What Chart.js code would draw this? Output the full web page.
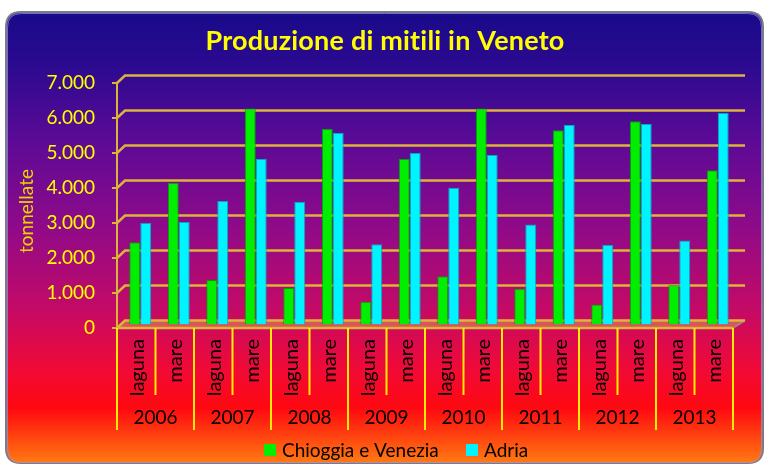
<!DOCTYPE html>
<html>
<head>
<meta charset="utf-8">
<script src="https://cdn.jsdelivr.net/npm/chart.js@4"></script>
<style>
  html, body { margin: 0; padding: 0; background: #fff; }
  canvas { display: block; }
</style>
</head>
<body>
<canvas id="chart" width="766" height="465"></canvas>
<script>
/* ---- Dati ---- */
const TITLE = "Produzione di mitili in Veneto";
const Y_TITLE = "tonnellate";
const YEARS = ["2006", "2007", "2008", "2009", "2010", "2011", "2012", "2013"];
const SITES = ["laguna", "mare"];
const CHIOGGIA = [2350, 4050, 1270, 6170, 1040, 5590, 650, 4730, 1380, 6170, 1020, 5550, 570, 5810, 1120, 4410];
const ADRIA    = [2900, 2930, 3530, 4730, 3510, 5480, 2290, 4900, 3910, 4840, 2860, 5700, 2270, 5730, 2400, 6050];
const Y_TICKS  = [0, 1000, 2000, 3000, 4000, 5000, 6000, 7000];
const Y_LABELS = ["0", "1.000", "2.000", "3.000", "4.000", "5.000", "6.000", "7.000"];
const SERIES_NAMES = ["Chioggia e Venezia", "Adria"];

// categorie: anno x sito
const CATEGORIES = [];
YEARS.forEach(y => SITES.forEach(s => CATEGORIES.push(y + " " + s)));

/* ---- Stile ---- */
const FONT = "Lato, 'Open Sans', sans-serif";
const GRID = "#dcb43c";
const FX = -4, FY = 3.5;   // parete frontale (assi) rispetto alle barre
const BX = 4,  BY = -4;    // parete di fondo (griglia)

function roundRect(ctx, x, y, w, h, r) {
  ctx.beginPath();
  ctx.moveTo(x + r, y);
  ctx.lineTo(x + w - r, y);
  ctx.quadraticCurveTo(x + w, y, x + w, y + r);
  ctx.lineTo(x + w, y + h - r);
  ctx.quadraticCurveTo(x + w, y + h, x + w - r, y + h);
  ctx.lineTo(x + r, y + h);
  ctx.quadraticCurveTo(x, y + h, x, y + h - r);
  ctx.lineTo(x, y + r);
  ctx.quadraticCurveTo(x, y, x + r, y);
  ctx.closePath();
}

const deco = {
  id: "deco",
  beforeDraw(chart) {
    const ctx = chart.ctx;
    ctx.save();
    ctx.fillStyle = "#fff";
    ctx.fillRect(0, 0, chart.width, chart.height);
    // cornice
    roundRect(ctx, 5, 11, 759, 453, 16);
    ctx.fillStyle = "#7a7a88";
    ctx.fill();
    const g = ctx.createLinearGradient(0, 13, 0, 462);
    g.addColorStop(0.00, "#180a8a");
    g.addColorStop(0.12, "#2c0a90");
    g.addColorStop(0.30, "#600a96");
    g.addColorStop(0.48, "#900a88");
    g.addColorStop(0.66, "#c40a66");
    g.addColorStop(0.80, "#f20a34");
    g.addColorStop(0.88, "#ff0810");
    g.addColorStop(0.95, "#ff4a10");
    g.addColorStop(1.00, "#ff7812");
    roundRect(ctx, 7, 13, 755, 450, 14);
    ctx.fillStyle = g;
    ctx.fill();
    ctx.strokeStyle = "rgba(150,150,220,0.7)";
    ctx.lineWidth = 1;
    roundRect(ctx, 7.5, 13.5, 754, 449, 14);
    ctx.stroke();
    ctx.restore();
  },
  beforeDatasetsDraw(chart) {
    const ctx = chart.ctx;
    const xs = chart.scales.x, ys = chart.scales.y;
    const L = xs.left, R = xs.right;
    ctx.save();
    // pavimento
    const y0 = ys.getPixelForValue(0);
    ctx.fillStyle = "rgba(225,150,90,0.55)";
    ctx.beginPath();
    ctx.moveTo(L + FX, y0 + FY);
    ctx.lineTo(R + FX, y0 + FY);
    ctx.lineTo(R + BX + 4, y0 + BY);
    ctx.lineTo(L + BX, y0 + BY);
    ctx.closePath();
    ctx.fill();
    ctx.strokeStyle = "#9a8a8a";
    ctx.lineWidth = 1.5;
    ctx.beginPath();
    ctx.moveTo(R + FX, y0 + FY);
    ctx.lineTo(R + BX + 4, y0 + BY);
    ctx.stroke();
    // griglia sulla parete di fondo
    ctx.strokeStyle = GRID;
    ctx.lineWidth = 2.5;
    Y_TICKS.forEach(v => {
      const py = ys.getPixelForValue(v);
      ctx.beginPath();
      ctx.moveTo(L + FX, py + FY);
      ctx.lineTo(L + BX, py + BY);
      ctx.lineTo(R + BX + 4, py + BY);
      ctx.stroke();
    });
    // bordo frontale del pavimento
    ctx.beginPath();
    ctx.moveTo(L + FX, y0 + FY);
    ctx.lineTo(R + FX, y0 + FY);
    ctx.stroke();
    // asse verticale + tacche
    ctx.lineWidth = 2;
    ctx.beginPath();
    ctx.moveTo(L + FX, ys.getPixelForValue(Y_TICKS[Y_TICKS.length - 1]) + FY);
    ctx.lineTo(L + FX, y0 + FY);
    Y_TICKS.forEach(v => {
      const py = ys.getPixelForValue(v) + FY;
      ctx.moveTo(L + FX - 5, py);
      ctx.lineTo(L + FX, py);
    });
    ctx.stroke();
    ctx.restore();
  },
  afterDraw(chart) {
    const ctx = chart.ctx;
    const xs = chart.scales.x, ys = chart.scales.y;
    const L = xs.left;
    const w = (xs.right - xs.left) / CATEGORIES.length;
    const y0 = ys.getPixelForValue(0) + FY;
    ctx.save();
    // titolo (letterSpacing evita la legatura "ti")
    ctx.fillStyle = "#ffff00";
    ctx.font = "bold 27px " + FONT;
    ctx.letterSpacing = "0.2px";
    ctx.textAlign = "center";
    ctx.textBaseline = "middle";
    ctx.fillText(TITLE, 385, 41);
    ctx.letterSpacing = "0px";
    // etichette asse y
    ctx.font = "19px " + FONT;
    ctx.textAlign = "right";
    Y_TICKS.forEach((v, i) => {
      ctx.fillText(Y_LABELS[i], 95, ys.getPixelForValue(v) + FY);
    });
    // titolo asse y
    ctx.save();
    ctx.fillStyle = "#ecd400";
    ctx.font = "19px " + FONT;
    ctx.translate(27, 211);
    ctx.rotate(-Math.PI / 2);
    ctx.textAlign = "center";
    ctx.fillText(Y_TITLE, 0, 0);
    ctx.restore();
    // separatori categorie
    ctx.strokeStyle = "#ffee00";
    ctx.lineWidth = 2;
    ctx.beginPath();
    for (let i = 0; i <= CATEGORIES.length; i++) {
      const px = L + i * w + FX;
      ctx.moveTo(px, y0);
      ctx.lineTo(px, i % 2 === 0 ? 430 : 395);
    }
    ctx.stroke();
    // etichette sito (ruotate)
    ctx.fillStyle = "#000";
    ctx.font = "20px " + FONT;
    CATEGORIES.forEach((c, i) => {
      const px = xs.getPixelForValue(i) + FX;
      ctx.save();
      ctx.translate(px + 1, 339);
      ctx.rotate(-Math.PI / 2);
      ctx.textAlign = "right";
      ctx.textBaseline = "middle";
      ctx.fillText(SITES[i % 2], 0, 0);
      ctx.restore();
    });
    // etichette anno
    ctx.font = "19px " + FONT;
    ctx.textAlign = "center";
    ctx.textBaseline = "middle";
    YEARS.forEach((y, k) => {
      const px = L + (2 * k + 1) * w + FX;
      ctx.fillText(y, px, 418);
    });
    // legenda
    const leg = [
      { x: 264, color: "#00ee00" },
      { x: 466, color: "#00f4ff" }
    ];
    ctx.textAlign = "left";
    leg.forEach((l, i) => {
      ctx.fillStyle = l.color;
      ctx.fillRect(l.x, 444, 12, 12);
      ctx.fillStyle = "#000";
      ctx.fillText(SERIES_NAMES[i], l.x + 18, 451);
    });
    ctx.restore();
  }
};

new Chart(document.getElementById("chart"), {
  type: "bar",
  data: {
    labels: CATEGORIES,
    datasets: [
      { label: SERIES_NAMES[0], data: CHIOGGIA, backgroundColor: "#00ee00", borderColor: "#00a000", borderWidth: 1 },
      { label: SERIES_NAMES[1], data: ADRIA, backgroundColor: "#00f4ff", borderColor: "#00a8c4", borderWidth: 1 }
    ]
  },
  options: {
    responsive: false,
    animation: false,
    devicePixelRatio: 1,
    layout: { padding: { left: 121, right: 29, top: 79.5, bottom: 140.5 } },
    datasets: { bar: { categoryPercentage: 0.57, barPercentage: 1.0 } },
    plugins: { legend: { display: false }, tooltip: { enabled: false } },
    scales: {
      x: { display: false, offset: true },
      y: { display: false, min: 0, max: 7000 }
    }
  },
  plugins: [deco]
});
</script>
</body>
</html>
